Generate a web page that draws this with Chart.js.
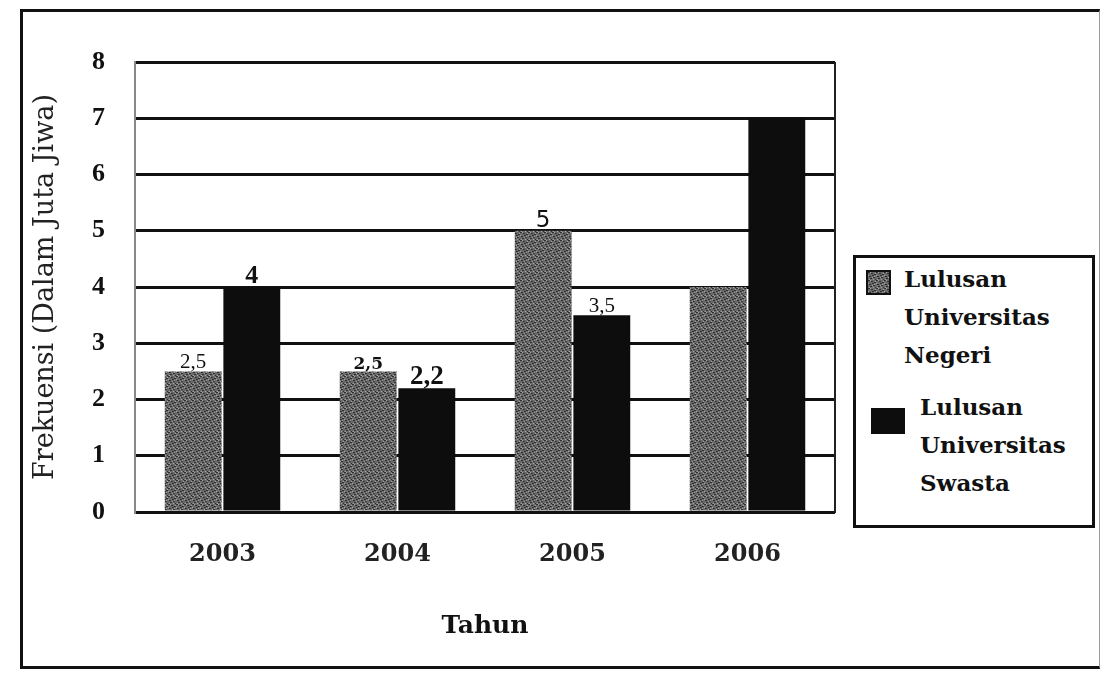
<!DOCTYPE html>
<html>
<head>
<meta charset="utf-8">
<script src="https://cdn.jsdelivr.net/npm/chart.js@4.4.0/dist/chart.umd.min.js"></script>
<style>
  body { margin: 0; background: #fff; }
  #wrap { position: relative; width: 1104px; height: 679px; overflow: hidden; }
  #frame { position: absolute; left: 20px; top: 9px; width: 1076px; height: 654px; border: 3px solid #111; border-right: 1px solid #999; }
  #chart { position: absolute; left: 0; top: 0; }
  #legend { position: absolute; left: 853px; top: 255px; width: 236px; height: 267px; border: 3px solid #111; background: #fff;
            font-family: "DejaVu Serif", serif; font-weight: bold; font-size: 23px; color: #111; }
  .item { position: absolute; line-height: 38px; white-space: nowrap; }
  .swatch { position: absolute; }
</style>
</head>
<body>
<div id="wrap">
  <div id="frame"></div>
  <canvas id="chart" width="1104" height="679"></canvas>
  <div id="legend"></div>
</div>
<script>
// data
const years = ['2003', '2004', '2005', '2006'];
const negeri = [2.5, 2.5, 5, 4];
const swasta = [4, 2.2, 3.5, 7];
const negeriLabels = ['2,5', '2,5', '5', ''];
const swastaLabels = ['4', '2,2', '3,5', ''];
const seriesNames = ['Lulusan Universitas Negeri', 'Lulusan Universitas Swasta'];
const yTicks = [0, 1, 2, 3, 4, 5, 6, 7, 8];

// speckled grey fill for the "Negeri" bars
const makeSpeckle = () => {
  const c = document.createElement('canvas');
  c.width = 8; c.height = 8;
  const g = c.getContext('2d');
  g.fillStyle = '#6b6b6b';
  g.fillRect(0, 0, 8, 8);
  g.fillStyle = '#2e2e2e';
  [[0,0],[3,1],[6,2],[1,4],[5,5],[2,6],[7,7],[4,3]].forEach(([x, y]) => g.fillRect(x, y, 2, 1));
  g.fillStyle = '#a8a8a8';
  [[2,0],[7,1],[0,3],[4,5],[6,4],[1,7],[5,7]].forEach(([x, y]) => g.fillRect(x, y, 1, 1));
  return c;
};
const speckle = makeSpeckle();
const ctx = document.getElementById('chart').getContext('2d');
const speckleFill = ctx.createPattern(speckle, 'repeat');

// value labels over the bars
const labelFonts = [
  ['normal 21px "Liberation Serif"', 'bold 17px "DejaVu Serif"', 'normal 23px "DejaVu Sans"', ''],
  ['bold 26px "Liberation Serif"', 'bold 27px "Liberation Serif"', 'normal 21px "Liberation Serif"', '']
];
const valueLabels = {
  id: 'valueLabels',
  afterDatasetsDraw(chart) {
    const c = chart.ctx;
    [negeriLabels, swastaLabels].forEach((texts, d) => {
      const meta = chart.getDatasetMeta(d);
      meta.data.forEach((bar, i) => {
        if (!texts[i]) return;
        c.save();
        c.font = labelFonts[d][i];
        c.fillStyle = '#111';
        c.textAlign = 'center';
        c.textBaseline = 'bottom';
        c.fillText(texts[i], bar.x, bar.y + 2);
        c.restore();
      });
    });
  }
};

// right edge of the plot box
const rightEdge = {
  id: 'rightEdge',
  afterDraw(chart) {
    const { top, bottom, right } = chart.chartArea;
    const c = chart.ctx;
    c.save();
    c.strokeStyle = '#222';
    c.lineWidth = 2;
    c.beginPath();
    c.moveTo(right, top);
    c.lineTo(right, bottom + 1);
    c.stroke();
    c.restore();
  }
};

new Chart(ctx, {
  type: 'bar',
  data: {
    labels: years,
    datasets: [{
      label: seriesNames[0],
      data: negeri,
      backgroundColor: speckleFill,
      borderWidth: 0,
      categoryPercentage: 0.67,
      barPercentage: 0.97
    }, {
      label: seriesNames[1],
      data: swasta,
      backgroundColor: '#0d0d0d',
      borderWidth: 0,
      categoryPercentage: 0.67,
      barPercentage: 0.97
    }]
  },
  options: {
    responsive: false,
    animation: false,
    devicePixelRatio: 1,
    layout: { padding: { left: 20, top: 62, right: 269, bottom: 38 } },
    plugins: {
      legend: { display: false },
      tooltip: { enabled: false }
    },
    scales: {
      x: {
        grid: { display: false, drawTicks: false },
        border: { display: false },
        ticks: { padding: 28, color: '#222', font: { family: 'DejaVu Serif', weight: 'bold', size: 24 } },
        title: { display: true, text: 'Tahun', color: '#111', padding: 0,
                 font: { family: 'DejaVu Serif', weight: 'bold', size: 25 } },
        afterFit: (scale) => { scale.height = 129; }
      },
      y: {
        min: 0,
        max: 8,
        afterBuildTicks: (scale) => { scale.ticks = yTicks.map(v => ({ value: v })); },
        grid: { color: '#111', lineWidth: 3, drawTicks: false },
        border: { display: true, color: '#888', width: 2 },
        ticks: { padding: 30, color: '#111', font: { family: 'Liberation Serif', weight: 'bold', size: 26 } },
        title: { display: true, text: 'Frekuensi (Dalam Juta Jiwa)', color: '#222', padding: { top: 10 },
                 font: { family: 'DejaVu Serif', size: 27 } },
        afterFit: (scale) => { scale.width = 115; }
      }
    }
  },
  plugins: [valueLabels, rightEdge]
});

// legend box built from the series names
const legend = document.getElementById('legend');
const speckleUrl = speckle.toDataURL();
const legendLayout = [
  { sx: 10, sy: 12, sw: 25, sh: 25, tx: 48, ty: 2 },
  { sx: 15, sy: 150, sw: 34, sh: 26, tx: 64, ty: 130 }
];
seriesNames.forEach((name, i) => {
  const L = legendLayout[i];
  const sw = document.createElement('div');
  sw.className = 'swatch';
  sw.style.left = L.sx + 'px';
  sw.style.top = L.sy + 'px';
  sw.style.width = L.sw + 'px';
  sw.style.height = L.sh + 'px';
  if (i === 0) {
    sw.style.background = 'url(' + speckleUrl + ')';
    sw.style.border = '2px solid #111';
    sw.style.boxSizing = 'border-box';
  } else {
    sw.style.background = '#0d0d0d';
  }
  legend.appendChild(sw);
  const tx = document.createElement('div');
  tx.className = 'item';
  tx.style.left = L.tx + 'px';
  tx.style.top = L.ty + 'px';
  tx.innerHTML = name.split(' ').join('<br>');
  legend.appendChild(tx);
});
</script>
</body>
</html>
